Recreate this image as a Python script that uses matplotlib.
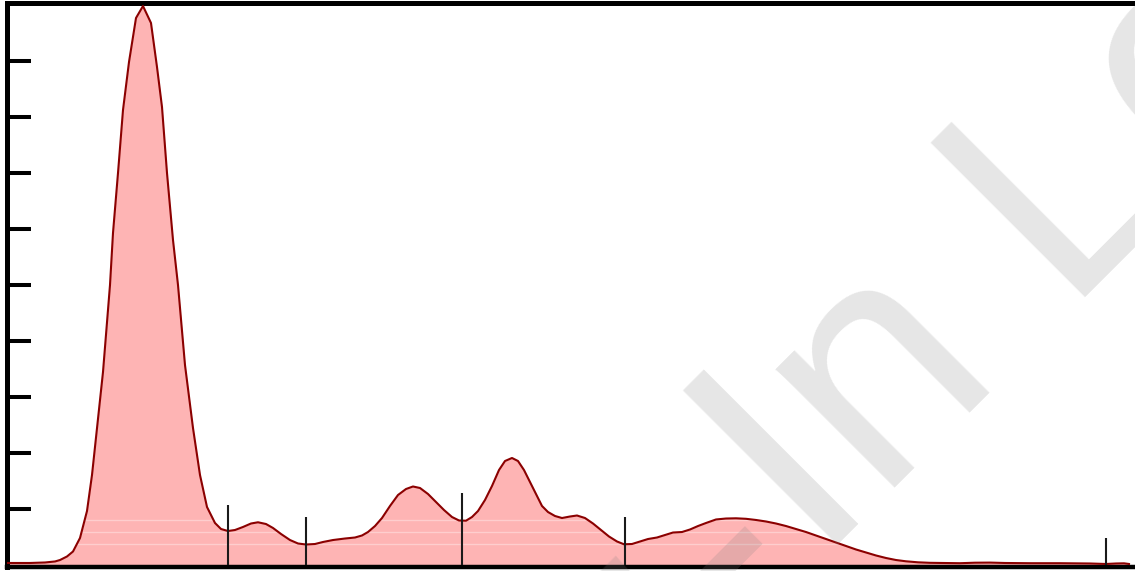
import matplotlib
matplotlib.use("Agg")
import matplotlib.pyplot as plt
import numpy as np

# ---- data ----
retention = [0, 23, 38, 48, 53, 60, 66, 73, 80, 85, 90, 96, 103, 106, 111, 116, 122, 129, 136,
             144, 150, 155, 160, 166, 171, 178, 186, 193, 200, 208, 214, 221, 228, 236, 244, 251,
             259, 266, 274, 283, 291, 299, 308, 316, 326, 338, 348, 355, 361, 368, 375, 383, 391,
             399, 406, 413, 421, 429, 437, 445, 452, 459, 465, 471, 478, 485, 492, 498, 505, 511,
             517, 523, 529, 535, 541, 548, 555, 563, 570, 578, 586, 594, 602, 610, 617, 625, 633,
             641, 650, 658, 666, 675, 683, 691, 699, 709, 719, 729, 739, 749, 759, 769, 779, 789,
             799, 809, 819, 829, 839, 849, 859, 869, 879, 889, 899, 911, 923, 938, 953, 968, 983,
             998, 1023, 1053, 1083, 1099, 1109, 1117, 1122]
signal = [0.036, 0.036, 0.045, 0.063, 0.089, 0.152, 0.241, 0.482, 0.964, 1.607, 2.446, 3.446,
          5.000, 5.929, 7.000, 8.125, 8.982, 9.768, 9.982, 9.679, 8.893, 8.179, 7.000, 5.804,
          5.000, 3.571, 2.446, 1.607, 1.036, 0.750, 0.643, 0.607, 0.625, 0.679, 0.741, 0.763,
          0.732, 0.661, 0.554, 0.446, 0.384, 0.366, 0.375, 0.411, 0.446, 0.473, 0.491, 0.527,
          0.589, 0.696, 0.839, 1.054, 1.250, 1.357, 1.402, 1.375, 1.268, 1.125, 0.982, 0.857,
          0.795, 0.791, 0.857, 0.964, 1.161, 1.411, 1.696, 1.857, 1.911, 1.857, 1.696, 1.482,
          1.268, 1.054, 0.946, 0.875, 0.839, 0.866, 0.884, 0.839, 0.741, 0.625, 0.509, 0.420,
          0.370, 0.375, 0.420, 0.464, 0.491, 0.536, 0.580, 0.589, 0.634, 0.696, 0.750, 0.813,
          0.830, 0.834, 0.825, 0.804, 0.777, 0.741, 0.696, 0.643, 0.589, 0.527, 0.464, 0.402,
          0.339, 0.277, 0.223, 0.170, 0.125, 0.089, 0.066, 0.048, 0.039, 0.036, 0.032, 0.041,
          0.043, 0.036, 0.032, 0.032, 0.027, 0.018, 0.027, 0.030, 0.018]

marker_pos = [221, 299, 455, 618, 1099]
marker_top = [1.071, 0.857, 1.286, 0.857, 0.482]

level_lines = [0.375, 0.589, 0.804]

y_ticks = [1, 2, 3, 4, 5, 6, 7, 8, 9]

watermark_before = "Log-"
watermark_after = "In Log-In"

# ---- figure ----
W, H = 1135, 571
fig = plt.figure(figsize=(W / 100, H / 100), dpi=100)
left = 6.5 / W
bottom = (H - 567) / H
top = (H - 2.5) / H
ax = fig.add_axes([left, bottom, 1 - left, top - bottom])

ax.fill_between(retention, signal, 0, color="#feb4b4", linewidth=0, zorder=1)
ax.plot(retention, signal, color="#8b0000", linewidth=1.5, zorder=3)

for lv in level_lines:
    ax.axhline(lv, color="white", alpha=0.35, linewidth=1.0, zorder=2)

ax.vlines(marker_pos, 0, marker_top, color="#1a1a1a", linewidth=1.5, zorder=4)

ax.set_xlim(-0.5, 1128)
ax.set_ylim(-0.0357, 10.045)

ax.set_yticks(y_ticks)
ax.set_xticks([])
ax.tick_params(axis="y", direction="in", length=17.6, width=2.9, color="black",
               labelleft=False)

for side in ("left", "top"):
    ax.spines[side].set_linewidth(3.6)
    ax.spines[side].set_color("black")
ax.spines["bottom"].set_linewidth(3.2)
ax.spines["bottom"].set_color("black")
ax.spines["right"].set_visible(False)

# ---- watermark ----
ox, oy = 817 / W, (H - 565) / H
wm = dict(rotation=45, rotation_mode="anchor", va="baseline", fontsize=229,
          family=["Liberation Sans", "DejaVu Sans"], color=(0.5, 0.5, 0.5), alpha=0.2,
          zorder=10, transform=fig.transFigure)
fig.text(ox, oy, watermark_before, ha="right", **wm)
fig.text(ox, oy, watermark_after, ha="left", **wm)

fig.savefig("out.png", dpi=100)
